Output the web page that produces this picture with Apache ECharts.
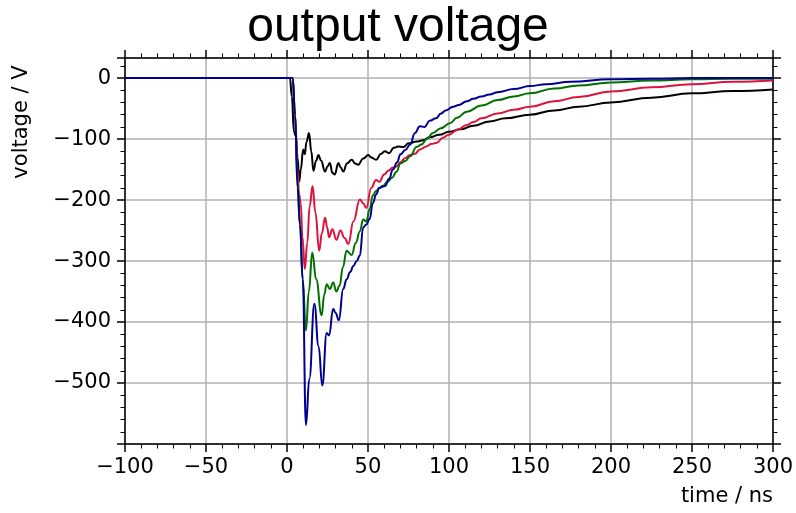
<!DOCTYPE html>
<html>
<head>
<meta charset="utf-8">
<script src="https://cdn.jsdelivr.net/npm/echarts@6/dist/echarts.min.js"></script>
<style>
  html, body { margin: 0; padding: 0; background: #fff; }
  #chart { width: 796px; height: 513px; }
</style>
</head>
<body>
<div id="chart"></div>
<script>
// Output voltage transients, [time (ns), voltage (V)]
const traceBlack = [
  [-100, 0], [-60, 0], [-20, 0], [0, 0], [1.8, 0], [3, -30], [4.3, -88], [5.5, -95],
  [6.5, -130], [7.6, -169], [8.5, -150], [10, -117], [11, -125], [12, -105], [13.6, -90],
  [15, -120], [16.3, -152], [18, -135], [19.4, -126], [21, -135], [23.5, -153], [25, -145],
  [26.5, -139], [28, -155], [29.5, -158], [31.7, -139], [33, -146], [34.8, -153], [37, -140],
  [40, -134], [42, -140], [44, -142], [47, -132], [50.2, -126], [52, -130], [55, -134],
  [58, -124], [60.5, -120], [63, -123], [66, -114], [68.7, -112], [72, -113], [75, -107],
  [80, -104], [84, -102], [88, -97], [94, -93], [100, -88], [107, -84], [115, -78],
  [125, -71], [135, -66], [150, -60], [165, -53], [180, -47], [200, -40], [225, -32],
  [250, -25], [275, -21], [300, -18.5]
];

const traceRed = [
  [-100, 0], [-40, 0], [0, 0], [3.5, 0], [5, -60], [6.5, -150], [7.5, -191], [8.5, -205],
  [9.5, -260], [11, -313], [12.5, -270], [14, -210], [15.8, -177], [17.5, -220], [19.9, -283],
  [21.5, -255], [23.5, -229], [24.8, -245], [26, -261], [28, -248], [30.5, -265], [33, -250],
  [35.5, -262], [37.9, -272], [41, -235], [45, -199], [47, -205], [49, -213], [52, -180],
  [55, -167], [57, -170], [60, -158], [62.5, -152], [65, -147], [67.5, -145], [70, -138],
  [73, -131], [76, -126], [79, -124], [82, -117], [86, -112], [89, -108], [92.6, -106],
  [96, -98], [100, -93], [105, -85], [111, -77], [115, -72], [120, -66], [130, -58],
  [140, -52], [150, -47], [165, -38], [180, -31], [200, -22], [225, -15], [250, -10],
  [275, -6], [300, -4]
];

const traceGreen = [
  [-100, 0], [0, 0], [3.5, 0], [5, -60], [6.5, -170], [8, -240], [9.7, -330], [11.7, -414],
  [13.5, -350], [15.6, -286], [18, -330], [21.4, -389], [23, -355], [24.5, -338],
  [26.5, -346], [28.5, -335], [30.5, -350], [32.5, -340], [34.5, -310], [36.8, -283],
  [39.9, -290], [42.5, -270], [45, -251], [47, -232], [49, -235], [51, -215], [53, -192],
  [55, -185], [57, -180], [59, -177], [62, -170], [65, -163], [67.7, -153], [70, -140],
  [73, -136], [76, -128], [80, -113], [83, -109], [86.4, -100], [90, -90], [95, -82],
  [100.6, -74], [105, -65], [111, -55], [120, -45], [130, -36], [140, -30], [150, -25],
  [165, -17], [180, -12], [200, -7], [225, -4], [250, -2], [275, -1], [300, -1]
];

const traceBlue = [
  [-100, 0], [0, 0], [3.5, 0], [5, -60], [6.5, -180], [8, -240], [9.7, -330], [11.7, -569],
  [13.8, -493], [16.9, -370], [19.5, -440], [21.8, -504], [24.5, -418], [26, -422],
  [28.5, -378], [30, -385], [32, -397], [34.7, -346], [36.8, -330], [39, -318], [41, -308],
  [43, -300], [45, -291], [47, -245], [49, -240], [51, -231], [53, -205], [55, -191],
  [57, -180], [60.5, -177], [63, -165], [65.4, -150], [68, -138], [70, -125], [73, -118],
  [76, -109], [79, -90], [82, -79], [85, -80], [88, -70], [92, -66], [95, -58], [98, -53],
  [102.6, -47], [106, -44], [111, -38], [115, -34], [120, -30], [125, -27], [130, -23],
  [140, -18], [150, -13], [160, -10], [175, -6], [200, -2], [225, -1], [250, 0], [275, 0],
  [300, 0]
];

const xRange = [-100, 300];
const yRange = [-600, 33];

const minus = v => String(v).replace('-', '\u2212');
const labelFont = { fontFamily: 'DejaVu Sans', fontSize: 21, color: '#000' };

function axisStyle(extra) {
  return Object.assign({
    axisLine: { show: true, onZero: false, lineStyle: { color: '#000', width: 1.5 } },
    axisTick: { show: true, inside: false, length: 8, lineStyle: { color: '#000', width: 1.5 } },
    minorTick: { show: true, splitNumber: 5, length: 4.5, lineStyle: { color: '#000', width: 1 } },
    splitLine: { show: false },
    minorSplitLine: { show: false }
  }, extra);
}

const chart = echarts.init(document.getElementById('chart'), null, { renderer: 'canvas' });

function line(data, color, z) {
  return {
    type: 'line', data: data, showSymbol: false, smooth: 0.45, smoothMonotone: 'x',
    lineStyle: { color: color, width: 2 }, z: z, animation: false
  };
}

chart.setOption({
  backgroundColor: '#fff',
  animation: false,
  title: {
    text: 'output voltage', left: 'center', top: -1,
    textStyle: { fontFamily: 'Liberation Sans', fontWeight: 'normal', fontSize: 48, color: '#000' }
  },
  grid: { left: 125, right: 23, top: 58, bottom: 69 },
  xAxis: [
    axisStyle({
      type: 'value', min: xRange[0], max: xRange[1], interval: 50, position: 'bottom',
      axisLabel: Object.assign({ margin: 13, formatter: minus }, labelFont),
      splitLine: { show: true, lineStyle: { color: '#b0b0b0', width: 1.5 } }
    }),
    axisStyle({
      type: 'value', min: xRange[0], max: xRange[1], interval: 50, position: 'top',
      axisLabel: { show: false }
    })
  ],
  yAxis: [
    axisStyle({
      type: 'value', min: yRange[0], max: yRange[1], interval: 100, position: 'left',
      axisLabel: Object.assign({ margin: 14, formatter: minus, showMaxLabel: false, showMinLabel: false }, labelFont),
      splitLine: { show: true, lineStyle: { color: '#b0b0b0', width: 1.5 } }
    }),
    axisStyle({
      type: 'value', min: yRange[0], max: yRange[1], interval: 100, position: 'right',
      axisLabel: { show: false }
    })
  ],
  graphic: [
    {
      type: 'text', x: 22, y: 122, rotation: Math.PI / 2,
      style: { text: 'voltage / V', fontFamily: 'DejaVu Sans', fontSize: 21, fill: '#000',
               align: 'center', verticalAlign: 'middle' }
    },
    {
      type: 'text', x: 773, y: 497,
      style: { text: 'time / ns', fontFamily: 'DejaVu Sans', fontSize: 21, fill: '#000',
               align: 'right', verticalAlign: 'middle' }
    }
  ],
  series: [
    line(traceBlack, '#000000', 2),
    line(traceRed, '#dc143c', 3),
    line(traceGreen, '#007000', 4),
    line(traceBlue, '#000090', 5)
  ]
});
</script>
</body>
</html>
